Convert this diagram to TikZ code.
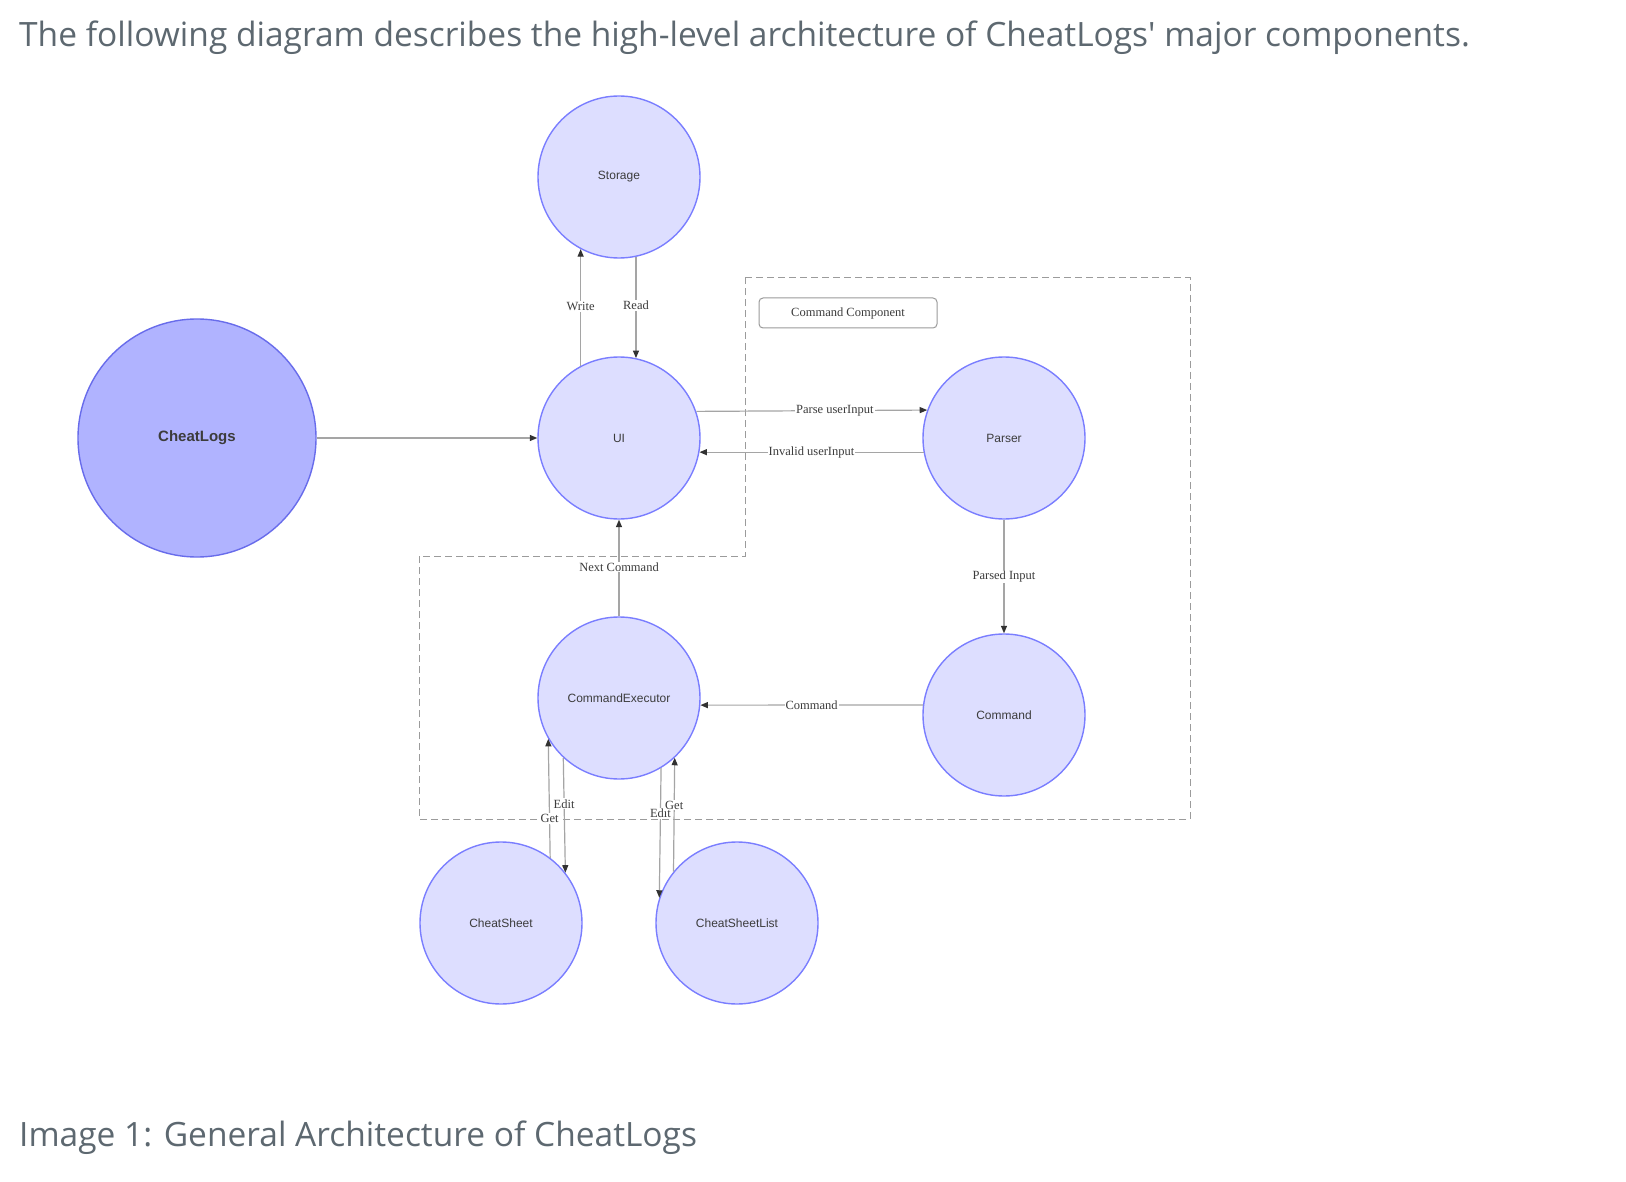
\documentclass[tikz,border=0pt]{standalone}
\usepackage{fontspec}
\setmainfont{Liberation Serif}
\newfontfamily\titlefont{Open Sans}
\newfontfamily\nodefont{Liberation Sans}
\usetikzlibrary{arrows.meta}
\definecolor{compfill}{RGB}{221,222,255}
\definecolor{compborder}{RGB}{122,126,255}
\definecolor{mainfill}{RGB}{176,179,255}
\definecolor{mainborder}{RGB}{104,108,235}
\definecolor{linegray}{RGB}{165,165,165}
\definecolor{arrowdark}{RGB}{50,50,50}
\definecolor{textdark}{RGB}{60,60,60}
\definecolor{titlegray}{RGB}{93,104,112}
\definecolor{dashgray}{RGB}{155,155,155}
\tikzset{
  comp/.style={circle, draw=compborder, fill=compfill, line width=1.4pt,
    minimum size=162pt, inner sep=0pt, text=textdark,
    font=\nodefont\fontsize{12}{14}\selectfont},
  mainnode/.style={comp, fill=mainfill, draw=mainborder, minimum size=238pt,
    font=\nodefont\bfseries\fontsize{15}{18}\selectfont},
  flow/.style={draw=linegray, line width=1.2pt,
    -{Triangle[length=7.5pt,width=6pt,color=arrowdark,fill=arrowdark]}},
  lbl/.style={fill=white, inner sep=1pt, text=textdark,
    font=\fontsize{12.5}{14}\selectfont},
  zone/.style={draw=dashgray, line width=1pt, dash pattern=on 7pt off 4pt},
  tag/.style={draw=dashgray, line width=1pt, rounded corners=4pt,
    minimum width=178pt, minimum height=30pt, inner sep=0pt, text=textdark,
    font=\fontsize{12.5}{14}\selectfont},
  pagetext/.style={anchor=base west, inner sep=0pt, text=titlegray,
    font=\titlefont\fontsize{33.5}{40}\selectfont}
}
\begin{document}
\begin{tikzpicture}[x=1pt,y=-1pt]
\useasboundingbox (0,0) rectangle (1626,1182);
\fill[white] (0,0) rectangle (1626,1182);

\node[pagetext] (title) at (19,47) {The following diagram describes the high-level architecture of CheatLogs' major components.};
\node[pagetext] (caption) at (19,1146) {Image 1: General Architecture of CheatLogs};

% dashed command-component zone
\draw[zone] (745,278) -- (1190,278) -- (1190,819) -- (419,819) -- (419,556) -- (745,556) -- cycle;
\node[tag] (cc) at (848,313) {Command Component};

% components
\node[mainnode] (cheat) at (197,438) {CheatLogs};
\node[comp] (storage) at (619,177) {Storage};
\node[comp] (ui) at (619,438) {UI};
\node[comp] (parser) at (1004,438) {Parser};
\node[comp] (exec) at (619,698) {CommandExecutor};
\node[comp] (command) at (1004,715) {Command};
\node[comp] (sheet) at (501,923) {CheatSheet};
\node[comp] (sheetlist) at (737,923) {CheatSheetList};

% connectors
\draw[flow] (cheat.east) -- (ui.west);
\draw[flow] (ui.118) -- node[lbl, pos=0.51] {Write} (storage.242);
\draw[flow] (storage.-78.6) -- node[lbl, pos=0.48] {Read} (ui.78.6);
\draw[flow] (ui.19.5) -- node[lbl, pos=0.60] {Parse userInput} (parser.160.5);
\draw[flow] (parser.190.7) -- node[lbl, pos=0.50] {Invalid userInput} (ui.-10.7);
\draw[flow] (exec.north) -- node[lbl, pos=0.51] {Next Command} (ui.south);
\draw[flow] (parser.south) -- node[lbl, pos=0.50] {Parsed Input} (command.north);
\draw[flow] (command.173.6) -- node[lbl, pos=0.50] {Command} (exec.-5.7);
\draw[flow] (sheet.53.7) -- node[lbl, pos=0.33] {Get} (exec.210.2);
\draw[flow] (exec.227.2) -- node[lbl, pos=0.40] {Edit} (sheet.38.9);
\draw[flow] (exec.-59.6) -- node[lbl, pos=0.35] {Edit} (sheetlist.162);
\draw[flow] (sheetlist.141.1) -- node[lbl, pos=0.585] {Get} (exec.-47.2);
\end{tikzpicture}
\end{document}
